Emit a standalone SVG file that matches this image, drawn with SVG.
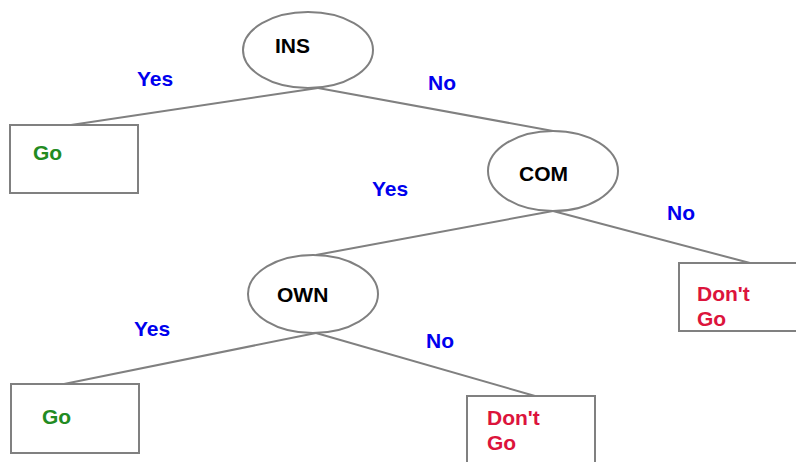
<svg xmlns="http://www.w3.org/2000/svg" width="796" height="462" viewBox="0 0 796 462">
<style>
text{font-family:"Liberation Sans",Arial,sans-serif;font-weight:bold;font-size:21px}
.node{fill:#fff;stroke:#808080;stroke-width:2}
.edge{stroke:#808080;stroke-width:2;fill:none}
.dec{fill:#000}
.yes{fill:#0000ee}
.go{fill:#228b22}
.dont{fill:#dc143c}
</style>
<rect width="796" height="462" fill="#fff"/>
<g id="connectors">
<line class="edge" x1="318" y1="88" x2="71" y2="125"/>
<line class="edge" x1="318" y1="88" x2="553" y2="131"/>
<line class="edge" x1="553" y1="211" x2="316" y2="255"/>
<line class="edge" x1="553" y1="211" x2="750" y2="263"/>
<line class="edge" x1="316" y1="333" x2="64" y2="384"/>
<line class="edge" x1="316" y1="333" x2="535" y2="396"/>
<text class="yes" x="137" y="86">Yes</text>
<text class="yes" x="428" y="90">No</text>
<text class="yes" x="372" y="196">Yes</text>
<text class="yes" x="667" y="220">No</text>
<text class="yes" x="134" y="336">Yes</text>
<text class="yes" x="426" y="348">No</text>
</g>
<g id="INS">
<ellipse class="node" cx="308" cy="50" rx="65" ry="38"/>
<text class="dec" x="275" y="53">INS</text>
</g>
<g id="COM">
<ellipse class="node" cx="553" cy="171" rx="65" ry="40"/>
<text class="dec" x="519" y="181">COM</text>
</g>
<g id="OWN">
<ellipse class="node" cx="313" cy="294" rx="65" ry="39"/>
<text class="dec" x="277" y="302">OWN</text>
</g>
<g id="go1">
<rect class="node" x="10" y="125" width="128" height="68"/>
<text class="go" x="33" y="160">Go</text>
</g>
<g id="dontgo1">
<rect class="node" x="679" y="263" width="130" height="68"/>
<text class="dont" x="697" y="301">Don't</text>
<text class="dont" x="697" y="326">Go</text>
</g>
<g id="go2">
<rect class="node" x="11" y="384" width="128" height="69"/>
<text class="go" x="42" y="424">Go</text>
</g>
<g id="dontgo2">
<rect class="node" x="467" y="396" width="128" height="80"/>
<text class="dont" x="487" y="425">Don't</text>
<text class="dont" x="487" y="450">Go</text>
</g>
</svg>
